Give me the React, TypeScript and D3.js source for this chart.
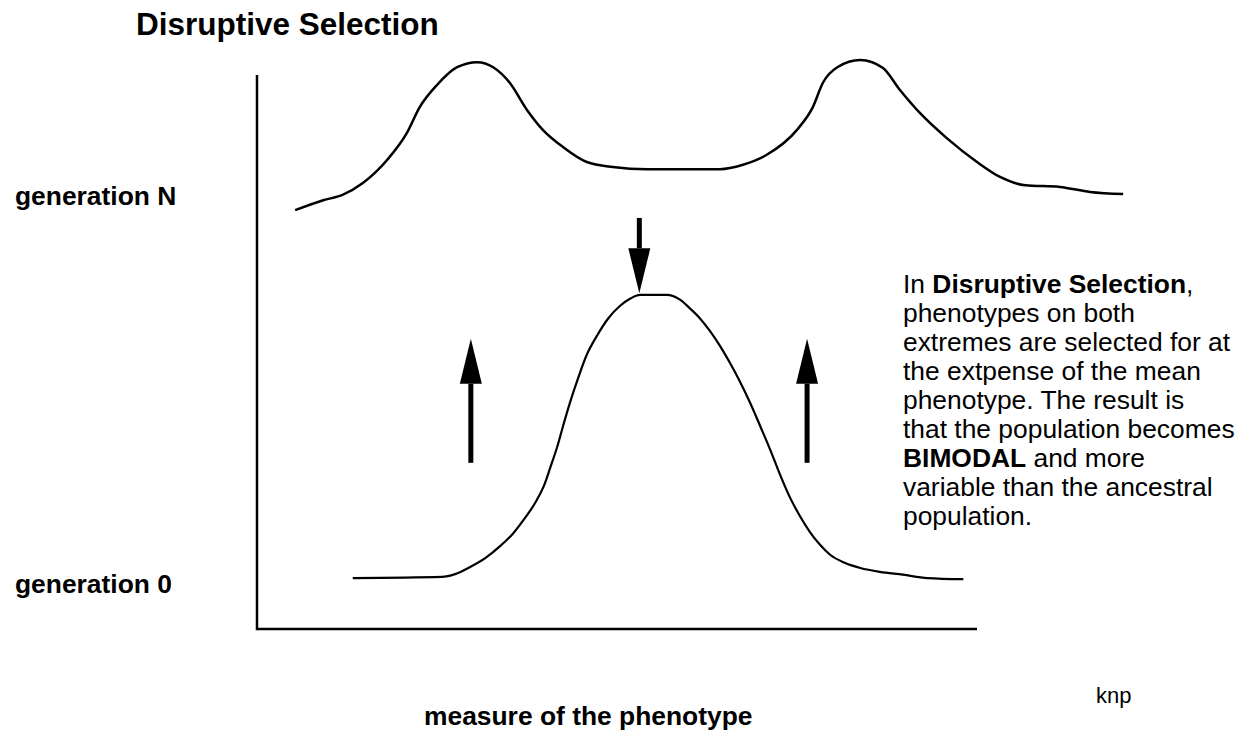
import React, { useEffect, useRef } from 'react';
import * as d3 from 'd3';

// phenotype measure (0-100 along the x axis) and relative frequency (0-100 up the y axis)
const genNPhenotype = [5.3, 9.2, 11.8, 14.7, 18.1, 20.8, 22.6, 25.0, 27.8, 30.6, 32.8, 35.1, 37.5, 39.7, 42.5, 45.8, 49.4, 54.2, 61.5, 64.3, 67.5, 70.8, 75.0, 77.2, 78.6, 80.6, 83.8, 86.9, 89.3, 92.1, 95.8, 100, 103.2, 106.7, 111.5, 115.7, 120.3];
const genNFrequency = [75.6, 77.4, 78.3, 80.5, 84.7, 89.5, 94.2, 98.2, 101.4, 102.3, 101.4, 98.6, 93.7, 90.1, 87.0, 84.3, 83.4, 83.0, 83.0, 83.0, 83.8, 85.6, 90.1, 94.2, 98.6, 101.4, 102.7, 101.3, 97.3, 93.1, 88.6, 84.3, 81.6, 80.1, 79.8, 78.9, 78.5];

const gen0Phenotype = [13.3, 25.7, 27.5, 29.6, 31.7, 33.8, 35.6, 37.2, 38.6, 39.9, 40.8, 41.7, 42.5, 43.5, 44.6, 45.8, 47.2, 48.8, 50.4, 51.8, 53.2, 56.9, 58.8, 60.1, 61.5, 62.9, 64.3, 65.7, 67.1, 68.5, 69.9, 71.3, 72.6, 74.0, 75.4, 76.8, 78.2, 79.6, 81.7, 83.8, 86.5, 89.7, 93.1, 98.1];
const gen0Frequency = [9.2, 9.4, 9.9, 11.2, 12.8, 15.0, 17.3, 20.0, 22.7, 26.0, 29.4, 32.9, 36.6, 41.0, 45.3, 49.5, 52.9, 56.1, 58.3, 59.6, 60.3, 60.3, 59.4, 57.9, 56.1, 53.8, 51.1, 48.0, 44.6, 40.8, 36.6, 32.3, 28.0, 23.8, 20.4, 17.5, 15.2, 13.4, 11.9, 11.0, 10.3, 9.8, 9.2, 9.0];

// selection arrows: [phenotype, from, to]
const arrows: [number, number, number][] = [
  [53.1, 74.2, 60.6],
  [29.7, 30.0, 52.4],
  [76.4, 30.0, 52.4],
];

const generationLabels = ['generation N', 'generation 0'];
const generationLevels = [78, 8];

const noteLines: { text: string; bold: boolean }[][] = [
  [{ text: 'In ', bold: false }, { text: 'Disruptive Selection', bold: true }, { text: ',', bold: false }],
  [{ text: 'phenotypes on both', bold: false }],
  [{ text: 'extremes are selected for at', bold: false }],
  [{ text: 'the extpense of the mean', bold: false }],
  [{ text: 'phenotype. The result is', bold: false }],
  [{ text: 'that the population becomes', bold: false }],
  [{ text: 'BIMODAL', bold: true }, { text: ' and more', bold: false }],
  [{ text: 'variable than the ancestral', bold: false }],
  [{ text: 'population.', bold: false }],
];

const font = '"Liberation Sans", Arial, Helvetica, sans-serif';

export default function App() {
  const ref = useRef<SVGSVGElement>(null);

  useEffect(() => {
    if (!ref.current) return;
    const svg = d3.select(ref.current);
    svg.selectAll('*').remove();

    const x = d3.scaleLinear().domain([0, 100]).range([257, 977]);
    const y = d3.scaleLinear().domain([0, 100]).range([629, 75]);

    svg.append('text')
      .attr('x', 136).attr('y', 35)
      .attr('font-family', font).attr('font-size', 31.5).attr('font-weight', 'bold')
      .text('Disruptive Selection');

    // axes (plain lines, no ticks)
    svg.append('path')
      .attr('d', `M${x(0)},${y(100)}V${y(0)}H${x(100)}`)
      .attr('fill', 'none').attr('stroke', '#000').attr('stroke-width', 2.5);

    const line = d3.line<[number, number]>()
      .x(d => x(d[0]))
      .y(d => y(d[1]))
      .curve(d3.curveMonotoneX);

    svg.append('path')
      .attr('d', line(d3.zip(genNPhenotype, genNFrequency) as [number, number][]))
      .attr('fill', 'none').attr('stroke', '#000').attr('stroke-width', 2.5);

    svg.append('path')
      .attr('d', line(d3.zip(gen0Phenotype, gen0Frequency) as [number, number][]))
      .attr('fill', 'none').attr('stroke', '#000').attr('stroke-width', 2.2);

    arrows.forEach(([p, from, to]) => {
      const dir = to > from ? -1 : 1; // pixel direction of travel
      const headLen = 45;
      const tipY = y(to);
      const baseY = tipY - dir * headLen;
      svg.append('line')
        .attr('x1', x(p)).attr('x2', x(p))
        .attr('y1', y(from)).attr('y2', baseY)
        .attr('stroke', '#000').attr('stroke-width', 5);
      svg.append('path')
        .attr('d', `M${x(p) - 11},${baseY}L${x(p) + 11},${baseY}L${x(p)},${tipY}Z`)
        .attr('fill', '#000');
    });

    svg.selectAll('.gen')
      .data(generationLabels)
      .enter().append('text')
      .attr('class', 'gen')
      .attr('x', 15)
      .attr('y', (d, i) => y(generationLevels[i]) + 8)
      .attr('font-family', font).attr('font-size', 26.4).attr('font-weight', 'bold')
      .text(d => d);

    svg.append('text')
      .attr('x', 424).attr('y', 725)
      .attr('font-family', font).attr('font-size', 26.4).attr('font-weight', 'bold')
      .text('measure of the phenotype');

    svg.append('text')
      .attr('x', 1096).attr('y', 703)
      .attr('font-family', font).attr('font-size', 22)
      .text('knp');

    const note = svg.append('text')
      .attr('font-family', font).attr('font-size', 26.4);
    noteLines.forEach((parts, i) => {
      parts.forEach((part, j) => {
        const t = note.append('tspan')
          .attr('font-weight', part.bold ? 'bold' : 'normal')
          .text(part.text);
        if (j === 0) t.attr('x', 903).attr('y', 293 + i * 29);
      });
    });
  }, []);

  return (
    <svg
      ref={ref}
      width={1249}
      height={732}
      style={{ position: 'absolute', left: 0, top: 0, background: '#fff' }}
    />
  );
}
